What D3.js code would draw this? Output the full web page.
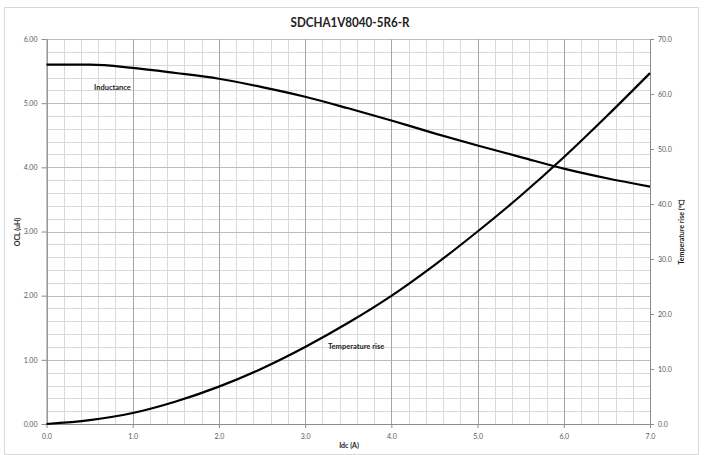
<!DOCTYPE html>
<html>
<head>
<meta charset="utf-8">
<script src="https://cdn.jsdelivr.net/npm/d3@7"></script>
<style>
  html, body { margin: 0; padding: 0; background: #ffffff; }
  svg { display: block; }
</style>
</head>
<body>
<svg id="chart" width="707" height="455"></svg>
<script>
// ---- Data ----
const title = "SDCHA1V8040-5R6-R";
const idc = [0, 0.5, 1.0, 1.5, 2.0, 2.5, 3.0, 3.5, 4.0, 4.5, 5.0, 5.5, 6.0, 6.5, 7.0];
const inductance = [5.60, 5.60, 5.55, 5.47, 5.38, 5.25, 5.10, 4.92, 4.73, 4.53, 4.34, 4.16, 3.98, 3.83, 3.70];
const tempRise = [0, 0.7, 2.0, 4.1, 6.8, 10.1, 14.0, 18.4, 23.3, 28.9, 35.0, 41.5, 48.5, 56.0, 63.8];
const xTicks = [0, 1, 2, 3, 4, 5, 6, 7];
const yLeftTicks = [0, 1, 2, 3, 4, 5, 6];
const yRightTicks = [0, 10, 20, 30, 40, 50, 60, 70];
const xLabel = "Idc (A)";
const yLeftLabel = "OCL (uH)";
const yRightLabel = "Temperature rise (℃)";
const seriesLabels = ["Inductance", "Temperature rise"];

(function () {
// ---- Layout ----
const svg = d3.select("#chart");
const pL = 46.5, pR = 650, pT = 39, pB = 424;
const x = d3.scaleLinear().domain([0, 7]).range([pL, pR]);
const yL = d3.scaleLinear().domain([0, 6]).range([pB, pT]);
const yR = d3.scaleLinear().domain([0, 70]).range([pB, pT]);
const font = "Lato, 'Open Sans', 'Liberation Sans', sans-serif";

// chart frame
svg.append("rect").attr("x", 4.5).attr("y", 7.5).attr("width", 694).attr("height", 447)
  .attr("fill", "#fff").attr("stroke", "#d9d9d9").attr("stroke-width", 1);

// title
svg.append("text").attr("x", 350).attr("y", 27).attr("text-anchor", "middle")
  .attr("font-family", font).attr("font-weight", "bold").attr("font-size", 14)
  .attr("fill", "#222").attr("textLength", 119).attr("lengthAdjust", "spacingAndGlyphs")
  .text(title);

// grid
const g = svg.append("g");
const minorX = d3.range(0, 7.0001, 0.2);
const minorY = d3.range(0, 6.0001, 0.2);
g.selectAll(".mx").data(minorX).join("line")
  .attr("x1", d => Math.round(x(d)) + 0.5).attr("x2", d => Math.round(x(d)) + 0.5)
  .attr("y1", pT).attr("y2", pB).attr("stroke", "#d9d9d9").attr("stroke-width", 1);
g.selectAll(".my").data(minorY).join("line")
  .attr("x1", pL).attr("x2", pR)
  .attr("y1", d => Math.round(yL(d)) + 0.5).attr("y2", d => Math.round(yL(d)) + 0.5)
  .attr("stroke", "#d9d9d9").attr("stroke-width", 1);
g.selectAll(".My").data(yLeftTicks).join("line")
  .attr("x1", pL).attr("x2", pR)
  .attr("y1", d => Math.round(yL(d)) + 0.5).attr("y2", d => Math.round(yL(d)) + 0.5)
  .attr("stroke", "#bcbcbc").attr("stroke-width", 1.2);
g.selectAll(".Mx").data(xTicks).join("line")
  .attr("x1", d => Math.round(x(d)) + 0.5).attr("x2", d => Math.round(x(d)) + 0.5)
  .attr("y1", pT).attr("y2", pB).attr("stroke", "#a6a6a6").attr("stroke-width", 1);

// axes
function styleAxis(sel) {
  sel.select(".domain").attr("stroke", "#8c8c8c");
  sel.selectAll(".tick line").attr("stroke", "#8c8c8c");
  sel.selectAll(".tick text").attr("fill", "#595959").attr("font-family", font).attr("font-size", 7);
}
svg.append("g").attr("transform", `translate(0,${pB})`)
  .call(d3.axisBottom(x).tickValues(xTicks).tickFormat(d3.format(".1f")).tickSize(4).tickPadding(6).tickSizeOuter(0))
  .call(styleAxis);
svg.append("g").attr("transform", `translate(${pL},0)`)
  .call(d3.axisLeft(yL).tickValues(yLeftTicks).tickFormat(d3.format(".2f")).tickSize(5).tickPadding(4).tickSizeOuter(0))
  .call(styleAxis);
svg.append("g").attr("transform", `translate(${pR},0)`)
  .call(d3.axisRight(yR).tickValues(yRightTicks).tickFormat(d3.format(".1f")).tickSize(4).tickPadding(4).tickSizeOuter(0))
  .call(styleAxis);

// lines
const lineL = d3.line().x((d, i) => x(idc[i])).y(d => yL(d)).curve(d3.curveMonotoneX);
const lineR = d3.line().x((d, i) => x(idc[i])).y(d => yR(d)).curve(d3.curveMonotoneX);
svg.append("path").attr("d", lineL(inductance)).attr("fill", "none").attr("stroke", "#000").attr("stroke-width", 2.2);
svg.append("path").attr("d", lineR(tempRise)).attr("fill", "none").attr("stroke", "#000").attr("stroke-width", 2.2);

// series labels
svg.append("text").attr("x", 94).attr("y", 90).attr("font-family", font).attr("font-weight", "bold")
  .attr("font-size", 7.5).attr("fill", "#222").text(seriesLabels[0]);
svg.append("text").attr("x", 328).attr("y", 349).attr("font-family", font).attr("font-weight", "bold")
  .attr("font-size", 7.5).attr("fill", "#222").text(seriesLabels[1]);

// axis titles
svg.append("text").attr("x", 349).attr("y", 448).attr("text-anchor", "middle")
  .attr("font-family", font).attr("font-weight", "bold").attr("font-size", 7).attr("fill", "#222").text(xLabel);
svg.append("text").attr("transform", "translate(20,232) rotate(-90)").attr("text-anchor", "middle")
  .attr("font-family", font).attr("font-weight", "bold").attr("font-size", 7).attr("fill", "#222").text(yLeftLabel);
svg.append("text").attr("transform", "translate(684,232) rotate(-90)").attr("text-anchor", "middle")
  .attr("font-family", font).attr("font-weight", "bold").attr("font-size", 7).attr("fill", "#222").text(yRightLabel);
})();
</script>
</body>
</html>
